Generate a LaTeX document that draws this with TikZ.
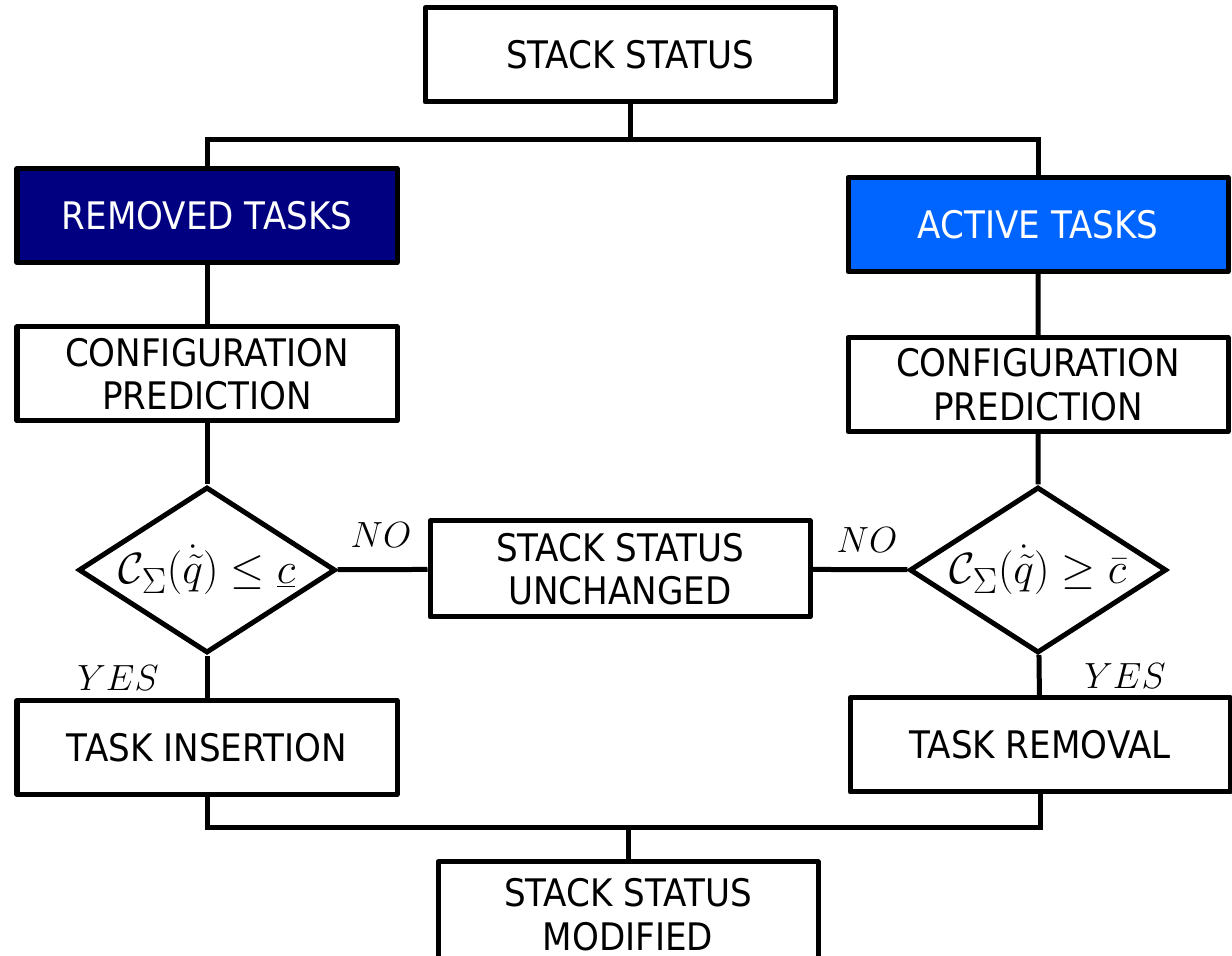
\documentclass[tikz,border=0pt]{standalone}
\usepackage{fix-cm}
\usepackage{fontspec}
\setmainfont{DejaVu Sans}[FakeStretch=0.9]
\usetikzlibrary{shapes.geometric}
\definecolor{navyblue}{HTML}{000080}
\definecolor{brightblue}{HTML}{0064FF}

\begin{document}
\begin{tikzpicture}[
    box/.style={draw, line width=0.1cm, line join=round, minimum width=7.6cm,
        minimum height=1.88cm, inner sep=0pt, align=center,
        font=\fontsize{21.6}{24.8}\selectfont},
    decision/.style={draw, diamond, aspect=1.55, line width=0.1cm,
        minimum width=5.14cm, minimum height=3.32cm, inner sep=0pt,
        font=\fontsize{24.88}{28}\selectfont},
    answer/.style={font=\fontsize{20.74}{25}\selectfont},
    link/.style={line width=0.1cm}
]
    \useasboundingbox (0,0) rectangle (24.64,19.1);

    \node[box, minimum width=8.2cm] (status) at (12.6,18) {STACK STATUS};
    \node[box, fill=navyblue, text=white] (removed) at (4.14,14.79) {REMOVED TASKS};
    \node[box, fill=brightblue, text=white] (active) at (20.76,14.61) {ACTIVE TASKS};
    \node[box] (predL) at (4.14,11.62) {CONFIGURATION\\PREDICTION};
    \node[box] (predR) at (20.76,11.41) {CONFIGURATION\\PREDICTION};
    \node[decision] (diaL) at (4.14,7.7)
        {\makebox[0pt]{$\mathcal{C}_\Sigma(\dot{\tilde{q}}) \leq \underline{c}$}};
    \node[decision] (diaR) at (20.76,7.7)
        {\makebox[0pt]{$\mathcal{C}_\Sigma(\dot{\tilde{q}}) \geq \bar{c}$}};
    \node[box, minimum height=1.92cm] (unchanged) at (12.4,7.72) {STACK STATUS\\UNCHANGED};
    \node[box] (insert) at (4.14,4.15) {TASK INSERTION};
    \node[box] (removal) at (20.8,4.2) {TASK REMOVAL};
    \node[box, minimum height=2.1cm] (modified) at (12.56,0.81) {STACK STATUS\\MODIFIED};

    \coordinate (split) at (12.6,16.3);
    \coordinate (join) at (12.56,2.54);

    \draw[link] (status) -- (split);
    \draw[link] (removed.north) |- (split) -| (active.north);
    \draw[link] (removed) -- (predL) -- (diaL) -- (insert);
    \draw[link] (active) -- (predR) -- (diaR) -- (removal);
    \draw[link] (diaL) -- (unchanged);
    \draw[link] (diaR) -- (unchanged);
    \draw[link] (insert.south) |- (join) -| (removal.south);
    \draw[link] (join) -- (modified);

    \node[answer] (noL) at (7.62,8.4) {$NO$};
    \node[answer] (noR) at (17.34,8.3) {$NO$};
    \node[answer] (yesL) at (2.36,5.54) {$YES$};
    \node[answer] (yesR) at (22.5,5.58) {$YES$};
\end{tikzpicture}
\end{document}
